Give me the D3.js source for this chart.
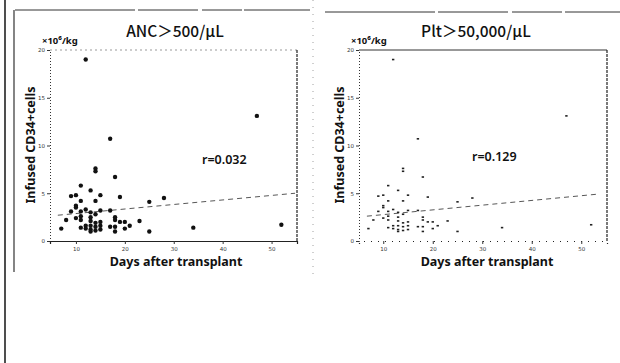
<!DOCTYPE html>
<html>
<head>
<meta charset="utf-8">
<script src="https://cdn.jsdelivr.net/npm/d3@7"></script>
<style>
  html, body { margin: 0; padding: 0; background: #fff; }
  svg { display: block; }
  .tick text { font-family: "DejaVu Sans", sans-serif; font-size: 5.5px; fill: #333; }
</style>
</head>
<body>
<svg id="chart" width="620" height="363"></svg>
<script>
// days after transplant for each patient (same patients in both panels)
const days = [12, 17, 47, 14, 14, 18, 11, 13, 9, 10, 15, 19, 11, 14, 25, 28, 10, 10, 12, 15,
  17, 9, 13, 14, 11, 11, 11, 10, 8, 13, 13, 18, 18, 19, 20, 23, 21, 20, 7, 11,
  12, 12, 13, 13, 13, 14, 14, 14, 15, 15, 15, 17, 18, 18, 25, 34, 52];
// infused CD34+ cells, x10^6/kg
const cd34 = [19.0, 10.7, 13.1, 7.6, 7.3, 6.7, 5.8, 5.3, 4.7, 4.8, 4.8, 4.6, 4.2, 4.2, 4.1, 4.5, 3.7, 3.5, 3.3, 3.2,
  3.2, 3.1, 3.0, 2.8, 3.1, 2.6, 2.2, 2.4, 2.2, 2.5, 2.1, 2.5, 2.2, 2.0, 2.0, 2.1, 1.6, 1.3, 1.3, 1.4,
  1.6, 1.3, 1.6, 1.2, 1.0, 1.9, 1.5, 1.1, 2.0, 1.6, 1.2, 1.5, 1.5, 1.0, 1.0, 1.4, 1.7];

const xTicks = [10, 20, 30, 40, 50];
const yTicks = [0, 5, 10, 15, 20];

const panelTitles = ['ANC\uff1e500/\u03bcL', 'Plt\uff1e50,000/\u03bcL'];
const rLabels = ['r=0.032', 'r=0.129'];
// fitted regression line ends [day, value]
const ancFit = [[6.3, 2.7], [54.8, 5.0]];
const pltFit = [[6.7, 2.6], [53.2, 4.9]];

const svg = d3.select('#chart');
const points = days.map((d, i) => ({day: d, val: cd34[i]}));

// scanned page frame lines
svg.append('line').attr('x1', 5).attr('x2', 5).attr('y1', 0).attr('y2', 363)
  .attr('stroke', '#222').attr('stroke-width', 1.6);
svg.append('line').attr('x1', 14).attr('x2', 14).attr('y1', 10).attr('y2', 272)
  .attr('stroke', '#333').attr('stroke-width', 1.2);
svg.append('line').attr('x1', 15).attr('x2', 310).attr('y1', 10).attr('y2', 10)
  .attr('stroke', '#333').attr('stroke-width', 1).attr('stroke-dasharray', '120,3,60,4,40,2');
svg.append('line').attr('x1', 325).attr('x2', 620).attr('y1', 12).attr('y2', 12)
  .attr('stroke', '#333').attr('stroke-width', 1).attr('stroke-dasharray', '110,3,70,4,50,3');
svg.append('line').attr('x1', 313).attr('x2', 313).attr('y1', 0).attr('y2', 275)
  .attr('stroke', '#888').attr('stroke-width', 0.8).attr('stroke-dasharray', '1,6');

function drawPanel(opts) {
  const x = d3.scaleLinear().domain(opts.xDomain).range([opts.left, opts.right]);
  const y = d3.scaleLinear().domain([0, 20]).range([241, 50]);
  const g = svg.append('g');

  // title and unit
  g.append('text').attr('x', opts.titleX).attr('y', 37)
    .attr('text-anchor', 'middle')
    .style('font-family', '"Noto Sans CJK JP", "Noto Sans", sans-serif')
    .style('font-size', '15.5px').style('font-weight', '500').attr('fill', '#111')
    .text(opts.title);
  g.append('text').attr('x', opts.left - 8).attr('y', 44)
    .style('font-family', '"Noto Sans", sans-serif').style('font-weight', 'bold')
    .style('font-size', '9.5px').attr('fill', '#111')
    .text('\u00d710\u2076/kg');

  // frame: top and right
  g.append('line').attr('x1', opts.left).attr('x2', opts.right).attr('y1', 50).attr('y2', 50)
    .attr('stroke', opts.frameColor).attr('stroke-width', 1).attr('stroke-dasharray', opts.topDash);
  g.append('line').attr('x1', opts.right).attr('x2', opts.right).attr('y1', 50).attr('y2', 241)
    .attr('stroke', '#222').attr('stroke-width', 1.2).attr('stroke-dasharray', '3,1');

  // axes
  const yAxis = g.append('g').attr('transform', `translate(${opts.left},0)`)
    .call(d3.axisLeft(y).tickValues(yTicks).tickSize(3).tickPadding(2));
  yAxis.select('.domain').attr('stroke', '#333').attr('stroke-dasharray', '1,2');
  const xAxis = g.append('g').attr('transform', 'translate(0,241)')
    .call(d3.axisBottom(x).tickValues(xTicks).tickSize(3).tickPadding(3));
  xAxis.select('.domain').attr('stroke', '#222').attr('stroke-width', 1.2)
    .attr('stroke-dasharray', opts.bottomDash);
  g.selectAll('.tick line').attr('stroke', '#333');

  // axis labels
  g.append('text')
    .attr('transform', `translate(${opts.left - 15},145) rotate(-90)`)
    .attr('text-anchor', 'middle')
    .style('font-family', '"Noto Sans", sans-serif').style('font-weight', 'bold')
    .style('font-size', '12.5px').attr('fill', '#111')
    .text('Infused CD34+cells');
  g.append('text').attr('x', opts.xLabelX).attr('y', 266)
    .attr('text-anchor', 'middle')
    .style('font-family', '"Noto Sans", sans-serif').style('font-weight', 'bold')
    .style('font-size', '12.5px').attr('fill', '#111')
    .text('Days after transplant');

  // regression line
  g.append('line')
    .attr('x1', x(opts.fit[0][0])).attr('y1', y(opts.fit[0][1]))
    .attr('x2', x(opts.fit[1][0])).attr('y2', y(opts.fit[1][1]))
    .attr('stroke', '#444').attr('stroke-width', 0.9).attr('stroke-dasharray', '5,4');

  // r value
  g.append('text').attr('x', opts.rX).attr('y', opts.rY)
    .style('font-family', '"Noto Sans", sans-serif').style('font-weight', '600')
    .style('font-size', '12.5px').attr('fill', '#111')
    .text(opts.rLabel);

  // points
  if (opts.bigDots) {
    g.selectAll('circle.pt').data(points).join('circle').attr('class', 'pt')
      .attr('cx', d => x(d.day)).attr('cy', d => y(d.val)).attr('r', 2.2)
      .attr('fill', '#111');
  } else {
    g.selectAll('rect.pt').data(points).join('rect').attr('class', 'pt')
      .attr('x', d => x(d.day) - 1.2).attr('y', d => y(d.val) - 0.8)
      .attr('width', 2.4).attr('height', 1.6).attr('fill', '#222');
  }
}

drawPanel({
  left: 50, right: 297, xDomain: [4.7, 55.2], title: panelTitles[0], titleX: 175,
  xLabelX: 176, rLabel: rLabels[0], rX: 202, rY: 164, fit: ancFit,
  frameColor: '#999', topDash: '2,3', bottomDash: 'none', bigDots: true
});
drawPanel({
  left: 359, right: 607, xDomain: [5.1, 55.2], title: panelTitles[1], titleX: 476,
  xLabelX: 487, rLabel: rLabels[1], rX: 472, rY: 161, fit: pltFit,
  frameColor: '#333', topDash: 'none', bottomDash: '1,6', bigDots: false
});
</script>
</body>
</html>
